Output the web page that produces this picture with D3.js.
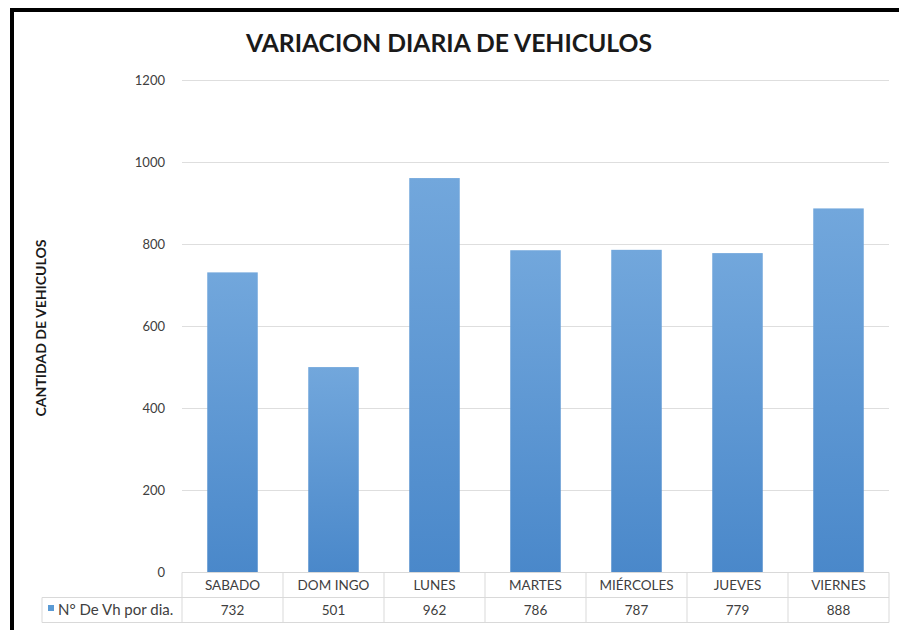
<!DOCTYPE html>
<html>
<head>
<meta charset="utf-8">
<script src="https://cdn.jsdelivr.net/npm/d3@7"></script>
<style>
  body { margin: 0; background: #fff; }
  svg { display: block; font-family: Lato, "Open Sans", sans-serif; }
</style>
</head>
<body>
<div id="plot"></div>
<script>
// data
var days = ["SABADO", "DOM INGO", "LUNES", "MARTES", "MIÉRCOLES", "JUEVES", "VIERNES"];
var vehicles = [732, 501, 962, 786, 787, 779, 888];
var yTicks = [0, 200, 400, 600, 800, 1000, 1200];
var seriesName = "N° De Vh por dia.";

var svgWidth = 899, svgHeight = 630;

var svg = d3.select("#plot")
    .append("svg")
    .attr("width", svgWidth)
    .attr("height", svgHeight);

// gradient for the bars
var grad = svg.append("defs").append("linearGradient")
    .attr("id", "barGrad")
    .attr("x1", 0).attr("y1", 0).attr("x2", 0).attr("y2", 1);
grad.append("stop").attr("offset", "0%").attr("stop-color", "#72a7dc");
grad.append("stop").attr("offset", "100%").attr("stop-color", "#4a88ca");

// frame
svg.append("line").attr("x1", 12).attr("x2", 12).attr("y1", 8).attr("y2", 630)
    .attr("stroke", "#000").attr("stroke-width", 4);
svg.append("line").attr("x1", 10).attr("x2", 899).attr("y1", 10).attr("y2", 10)
    .attr("stroke", "#000").attr("stroke-width", 4);

// scales
var xScale = d3.scaleBand()
    .domain(days)
    .range([182, 889])
    .paddingInner(0.5)
    .paddingOuter(0.25);

var yScale = d3.scaleLinear()
    .domain([0, 1200])
    .range([572.5, 80.5]);

// gridlines
svg.append("g").selectAll("line")
    .data(yTicks.filter(d => d > 0))
    .enter().append("line")
    .attr("x1", 182).attr("x2", 889)
    .attr("y1", d => yScale(d)).attr("y2", d => yScale(d))
    .attr("stroke", "#dedede").attr("stroke-width", 1);

// y tick labels
svg.append("g").selectAll("text")
    .data(yTicks)
    .enter().append("text")
    .attr("x", 165)
    .attr("y", d => yScale(d) + 4.5)
    .attr("text-anchor", "end")
    .attr("font-size", 13)
    .attr("fill", "#404040")
    .text(d => d);

// bars
svg.append("g").selectAll("rect")
    .data(vehicles)
    .enter().append("rect")
    .attr("x", (d, i) => xScale(days[i]))
    .attr("width", xScale.bandwidth())
    .attr("y", d => yScale(d))
    .attr("height", d => yScale(0) - yScale(d))
    .attr("fill", "url(#barGrad)");

// data table under the chart
var step = xScale.step();
var tableLeft = 182, tableRight = 889;
var row1 = 572.5, row2 = 597.5, row3 = 622.5;
var tbl = svg.append("g").attr("stroke", "#d9d9d9").attr("stroke-width", 1);
tbl.append("line").attr("x1", tableLeft).attr("x2", tableRight).attr("y1", row1).attr("y2", row1);
tbl.append("line").attr("x1", 42).attr("x2", tableRight).attr("y1", row2).attr("y2", row2);
tbl.append("line").attr("x1", 42).attr("x2", tableRight).attr("y1", row3).attr("y2", row3);
tbl.append("line").attr("x1", 42).attr("x2", 42).attr("y1", row2).attr("y2", row3);
tbl.selectAll(".vline")
    .data(d3.range(days.length + 1))
    .enter().append("line")
    .attr("x1", i => tableLeft + i * step).attr("x2", i => tableLeft + i * step)
    .attr("y1", row1).attr("y2", row3);

// category labels
svg.append("g").selectAll("text")
    .data(days)
    .enter().append("text")
    .attr("x", d => xScale(d) + xScale.bandwidth() / 2)
    .attr("y", 590)
    .attr("text-anchor", "middle")
    .attr("font-size", 13.5)
    .attr("fill", "#404040")
    .text(d => d);

// values row
svg.append("g").selectAll("text")
    .data(vehicles)
    .enter().append("text")
    .attr("x", (d, i) => xScale(days[i]) + xScale.bandwidth() / 2)
    .attr("y", 615)
    .attr("text-anchor", "middle")
    .attr("font-size", 13.5)
    .attr("fill", "#404040")
    .text(d => d);

// legend key
svg.append("rect").attr("x", 48).attr("y", 605).attr("width", 6).attr("height", 6)
    .attr("fill", "#5b9bd5");
svg.append("text").attr("x", 58).attr("y", 615)
    .attr("font-size", 15).attr("fill", "#404040")
    .text(seriesName);

// title
svg.append("text")
    .attr("x", 449).attr("y", 52)
    .attr("text-anchor", "middle")
    .attr("font-size", 24.7)
    .attr("font-weight", "bold")
    .attr("fill", "#1a1a1a")
    .text("VARIACION DIARIA DE VEHICULOS");

// y axis title
svg.append("text")
    .attr("transform", "translate(46, 328) rotate(-90)")
    .attr("text-anchor", "middle")
    .attr("font-size", 13.5)
    .attr("font-weight", "bold")
    .attr("fill", "#1a1a1a")
    .attr("textLength", 177)
    .attr("lengthAdjust", "spacingAndGlyphs")
    .text("CANTIDAD DE VEHICULOS");
</script>
</body>
</html>
